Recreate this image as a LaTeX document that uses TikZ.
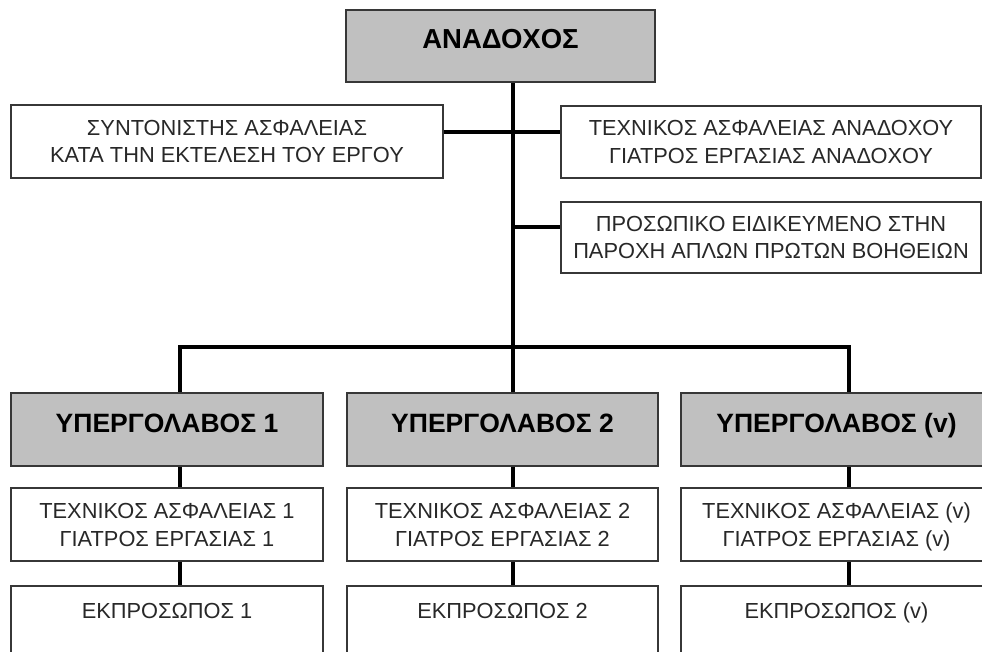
\documentclass[tikz,border=0pt]{standalone}
\usepackage{fontspec}
\setmainfont{Liberation Sans}
\definecolor{bordc}{RGB}{55,55,55}
\definecolor{headfill}{RGB}{192,192,192}
\definecolor{textc}{RGB}{40,40,40}
\begin{document}
\begin{tikzpicture}[x=1pt,y=-1pt,
  box/.style={draw=bordc, line width=1.8pt, fill=white, inner sep=0pt, align=center,
    text=textc, font=\fontsize{21.8}{27.5}\selectfont},
  twoline/.style={box, text height=43pt, text depth=0pt},
  head/.style={box, fill=headfill, text=black, font=\fontsize{26.5}{30}\selectfont\bfseries,
    text height=19pt, text depth=14pt},
  link/.style={line width=3.2pt, draw=black}]
\useasboundingbox (0,0) rectangle (982,652);
\fill[white] (0,0) rectangle (982,652);
% top level
\node[head, minimum width=309pt, minimum height=72pt, font=\fontsize{27.5}{30}\selectfont\bfseries] (top) at (500.5,46) {ΑΝΑΔΟΧΟΣ};
\node[twoline, minimum width=432pt, minimum height=73pt] (left) at (227,141.5)
  {ΣΥΝΤΟΝΙΣΤΗΣ ΑΣΦΑΛΕΙΑΣ\\ΚΑΤΑ ΤΗΝ ΕΚΤΕΛΕΣΗ ΤΟΥ ΕΡΓΟΥ};
\node[twoline, minimum width=420pt, minimum height=72pt] (r1) at (771,142)
  {ΤΕΧΝΙΚΟΣ ΑΣΦΑΛΕΙΑΣ ΑΝΑΔΟΧΟΥ\\ΓΙΑΤΡΟΣ ΕΡΓΑΣΙΑΣ ΑΝΑΔΟΧΟΥ};
\node[twoline, minimum width=420pt, minimum height=71pt] (r2) at (771,237.5)
  {ΠΡΟΣΩΠΙΚΟ ΕΙΔΙΚΕΥΜΕΝΟ ΣΤΗΝ\\ΠΑΡΟΧΗ ΑΠΛΩΝ ΠΡΩΤΩΝ ΒΟΗΘΕΙΩΝ};
% subcontractors
\node[head, minimum width=312pt, minimum height=73pt] (s1) at (167,429.5) {ΥΠΕΡΓΟΛΑΒΟΣ 1};
\node[head, minimum width=311pt, minimum height=73pt] (s2) at (502.5,429.5) {ΥΠΕΡΓΟΛΑΒΟΣ 2};
\node[head, minimum width=311pt, minimum height=73pt] (s3) at (836.5,429.5) {ΥΠΕΡΓΟΛΑΒΟΣ (v)};
\node[twoline, minimum width=312pt, minimum height=73pt] (t1) at (167,524.5)
  {ΤΕΧΝΙΚΟΣ ΑΣΦΑΛΕΙΑΣ 1\\ΓΙΑΤΡΟΣ ΕΡΓΑΣΙΑΣ 1};
\node[twoline, minimum width=311pt, minimum height=73pt] (t2) at (502.5,524.5)
  {ΤΕΧΝΙΚΟΣ ΑΣΦΑΛΕΙΑΣ 2\\ΓΙΑΤΡΟΣ ΕΡΓΑΣΙΑΣ 2};
\node[twoline, minimum width=311pt, minimum height=73pt] (t3) at (836.5,524.5)
  {ΤΕΧΝΙΚΟΣ ΑΣΦΑΛΕΙΑΣ (v)\\ΓΙΑΤΡΟΣ ΕΡΓΑΣΙΑΣ (v)};
\node[box, anchor=north, minimum width=312pt, text height=15.5pt, text depth=60pt, inner ysep=17.5pt] (u1) at (167,585) {ΕΚΠΡΟΣΩΠΟΣ 1};
\node[box, anchor=north, minimum width=311pt, text height=15.5pt, text depth=60pt, inner ysep=17.5pt] (u2) at (502.5,585) {ΕΚΠΡΟΣΩΠΟΣ 2};
\node[box, anchor=north, minimum width=311pt, text height=15.5pt, text depth=60pt, inner ysep=17.5pt] (u3) at (836.5,585) {ΕΚΠΡΟΣΩΠΟΣ (v)};
% connector coordinates
\coordinate (b1) at (180,347);
\coordinate (b2) at (513,347);
\coordinate (b3) at (849,347);
\coordinate (h1) at (513,132);
\coordinate (h2) at (513,227);
% trunk and branches
\draw[link] (top.south -| b2) -- (b2);
\draw[link] (left.east |- h1) -- (r1.west |- h1);
\draw[link] (h2) -- (r2.west |- h2);
\draw[link, line join=miter] (s1.north -| b1) -- (b1) -- (b3) -- (s3.north -| b3);
\draw[link] (b2) -- (s2.north -| b2);
% vertical chains
\draw[link] (s1.south -| b1) -- (t1.north -| b1);
\draw[link] (t1.south -| b1) -- (u1.north -| b1);
\draw[link] (s2.south -| b2) -- (t2.north -| b2);
\draw[link] (t2.south -| b2) -- (u2.north -| b2);
\draw[link] (s3.south -| b3) -- (t3.north -| b3);
\draw[link] (t3.south -| b3) -- (u3.north -| b3);
\end{tikzpicture}
\end{document}
